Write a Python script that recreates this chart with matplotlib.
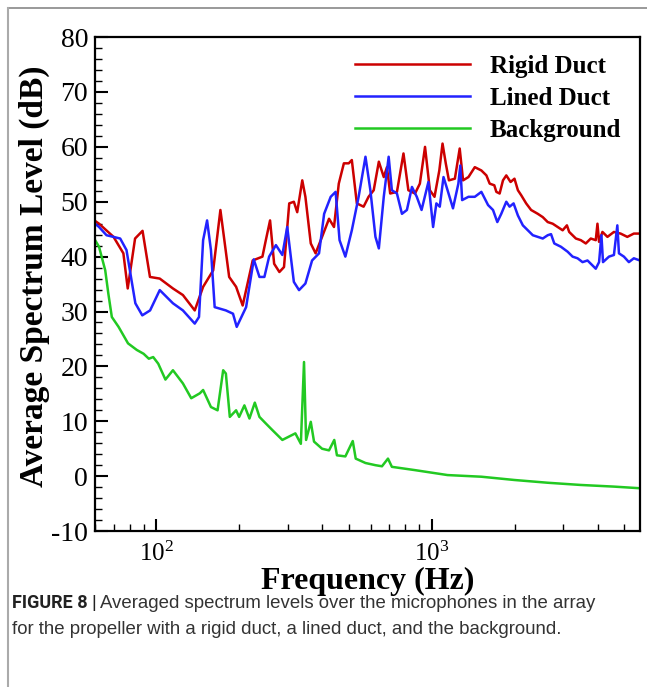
import matplotlib
matplotlib.use("Agg")
import matplotlib.pyplot as plt
from matplotlib.ticker import FixedLocator, LogLocator, NullFormatter
from matplotlib.lines import Line2D

plt.rcParams['font.family'] = ['Liberation Serif', 'DejaVu Serif']
plt.rcParams['mathtext.fontset'] = 'custom'
plt.rcParams['mathtext.rm'] = 'Liberation Serif'
plt.rcParams['axes.unicode_minus'] = False

# ---- data ----
rigid_f = [60, 62, 70, 76, 78.8, 83.8, 89.2, 94.9, 103, 115, 125, 138, 148, 161, 171, 184, 195, 206,
           224, 243, 250, 259, 268, 280, 291, 304, 316, 325, 339, 348, 364, 379, 400, 424, 442, 460,
           480, 500, 513, 535, 566, 590, 616, 643, 670, 688, 707, 748, 790, 823, 870, 906, 946,
           985, 1024, 1066, 1095, 1125, 1155, 1214, 1264, 1300, 1360, 1434,
           1515, 1580, 1624, 1688, 1717, 1765, 1815, 1866, 1934, 1998, 2056, 2113, 2203, 2296, 2428,
           2531, 2638, 2750, 2867, 2989, 3097, 3157, 3338, 3479, 3627, 3781, 3942, 3998, 4052, 4168,
           4346, 4588, 4852, 5131, 5419, 5700]
rigid_db = [46.5, 46.0, 43.6, 40.6, 34.2, 43.3, 44.7, 36.3, 36.0, 34.2, 33.0, 30.2, 34.5, 37.5, 48.5,
            36.3, 34.5, 31.1, 39.3, 40.0, 43.0, 46.6, 38.7, 37.2, 38.1, 49.7, 50.0, 48.1, 53.9, 50.9,
            42.4, 40.6, 43.6, 46.9, 45.4, 53.3, 57.0, 57.0, 57.6, 49.7, 49.1, 50.9, 52.1, 57.3, 54.5,
            56.3, 51.5, 51.8, 58.8, 52.1, 51.5, 53.3, 60.0, 52.1, 50.9, 55.7, 60.6, 57.0, 53.9, 54.2,
            59.7, 53.9, 54.5, 56.3,
            55.7, 54.8, 53.3, 53.0, 51.8, 51.5, 53.9, 54.8, 53.6, 54.2, 52.1, 51.2, 49.7, 48.5, 47.8,
            47.2, 46.3, 46.0, 45.4, 44.8, 45.7, 44.5, 43.3, 43.0, 42.4, 43.3, 43.0, 46.0, 42.7, 44.5,
            43.6, 44.5, 44.2, 43.6, 44.2, 44.2]

lined_f = [60, 62, 66, 74, 78, 84, 89, 95, 103, 115, 125, 138, 143, 148, 153, 158, 163, 179, 190, 196,
           212, 226, 237, 247, 257, 272, 287, 299, 308, 316, 330, 348, 368, 390, 407, 430, 448, 463,
           486, 513, 543, 575, 599, 625, 643, 670, 698, 717, 748, 780, 813, 848, 883, 919, 973, 1012,
           1040, 1070, 1104, 1142, 1195, 1250, 1270, 1290, 1360, 1434,
           1515, 1558, 1602, 1670, 1731, 1789, 1866, 1918, 1983, 2056, 2143, 2234, 2329, 2428, 2531,
           2638, 2712, 2787, 2946, 3115, 3248, 3385, 3529, 3679, 3835, 3942, 4052, 4133, 4188, 4402,
           4588, 4721, 4785, 4988, 5199, 5419, 5700]
lined_db = [46.0, 45.4, 43.9, 43.3, 41.2, 31.5, 29.3, 30.2, 33.9, 31.5, 30.2, 27.8, 29.0, 43.0, 46.6,
            41.2, 30.8, 30.2, 29.6, 27.2, 30.8, 39.5, 36.3, 36.3, 40.0, 42.1, 40.3, 45.4, 40.0, 35.4,
            33.9, 35.1, 39.3, 40.6, 47.8, 50.9, 51.8, 43.0, 40.0, 44.8, 50.9, 58.2, 52.1, 43.6, 41.5,
            50.9, 58.2, 52.1, 51.5, 47.8, 48.5, 52.7, 50.9, 48.5, 53.6, 45.4, 49.7, 49.1, 54.5, 52.1,
            48.8, 53.3, 56.6, 50.3, 50.9, 50.9,
            51.8, 50.6, 49.4, 48.5, 46.3, 47.8, 50.0, 49.1, 49.7, 47.5, 45.7, 44.8, 43.9, 43.6, 43.3,
            43.9, 44.1, 42.4, 41.8, 40.9, 40.0, 39.7, 39.0, 39.3, 38.4, 37.8, 39.0, 43.9, 39.0, 40.0,
            40.3, 45.7, 40.6, 40.0, 39.0, 39.7, 39.3]

bg_f = [60, 62, 65.3, 67, 69, 73, 79, 85, 90, 94, 97.5, 101.7, 108, 115, 125, 134, 144, 148, 158, 167,
        175, 179, 185, 195, 200, 209, 218, 228, 237, 250, 264, 287, 320, 335, 344, 350, 364, 374, 400,
        424, 443, 453, 486, 517, 530, 575, 625, 660, 694, 717, 870, 1142, 1515, 2000, 2640, 3470,
        4580, 5700]
bg_db = [43.0, 41.8, 37.5, 33.3, 29.0, 27.2, 24.2, 23.0, 22.3, 21.4, 21.7, 20.5, 17.6, 19.3, 16.9,
         14.2, 15.1, 15.7, 12.6, 12.0, 19.3, 18.7, 10.8, 12.0, 10.8, 12.9, 10.5, 13.4, 10.8, 9.6, 8.4,
         6.6, 7.8, 5.9, 20.8, 6.6, 9.9, 6.3, 5.0, 4.7, 6.6, 3.8, 3.6, 6.4, 3.2, 2.4, 2.0, 1.8, 3.2, 1.7,
         1.1, 0.2, -0.1, -0.7, -1.2, -1.6, -1.9, -2.2]

series_names = ["Rigid Duct", "Lined Duct", "Background"]
series_colors = ["#cc0000", "#2222ff", "#22c922"]

caption_bold = "FIGURE 8 |"
caption_line1 = "Averaged spectrum levels over the microphones in the array"
caption_line2 = "for the propeller with a rigid duct, a lined duct, and the background."

fig = plt.figure(figsize=(6.47, 6.87), dpi=100)
ax = fig.add_axes([0.147, 0.227, 0.842, 0.719])

lw = 1.8
ax.plot(rigid_f, rigid_db, color=series_colors[0], lw=lw, label=series_names[0])
ax.plot(lined_f, lined_db, color=series_colors[1], lw=lw, label=series_names[1])
ax.plot(bg_f, bg_db, color=series_colors[2], lw=lw, label=series_names[2])

ax.set_xscale('log')
ax.set_xlim(60, 5700)
ax.set_ylim(-10, 80)

ax.yaxis.set_major_locator(FixedLocator(list(range(-10, 81, 10))))
ax.yaxis.set_minor_locator(FixedLocator([v for v in range(-10, 81, 2) if v % 10 != 0]))
ax.xaxis.set_major_locator(LogLocator(base=10, numticks=10))
ax.xaxis.set_minor_locator(LogLocator(base=10, subs=range(2, 10), numticks=20))
ax.xaxis.set_minor_formatter(NullFormatter())

ax.tick_params(which='both', direction='in', top=False, right=False, width=1.5)
ax.tick_params(axis='x', labelsize=18)
ax.tick_params(axis='y', labelsize=20)
ax.tick_params(which='major', length=9)
ax.tick_params(which='minor', length=5, width=1.0)
ax.tick_params(axis='x', which='major', pad=8)
ax.tick_params(axis='y', which='major', pad=5)
for s in ax.spines.values():
    s.set_linewidth(1.6)

ax.set_xlabel("Frequency (Hz)", fontsize=23, fontweight='bold', labelpad=0)
ax.set_ylabel("Average Spectrum Level (dB)", fontsize=24, fontweight='bold')
ax.yaxis.set_label_coords(-0.082, 0.516)

ax.legend(loc='upper left', frameon=False, prop={'weight': 'bold', 'size': 18},
          handlelength=4.6, handletextpad=0.8, labelspacing=0.36, borderpad=0.0,
          borderaxespad=0.0, bbox_to_anchor=(0.477, 0.964))

# figure frame lines (grey)
fig.add_artist(Line2D([8/647, 1.0], [1-8/687, 1-8/687], transform=fig.transFigure, color='#888888', lw=1.2))
fig.add_artist(Line2D([8/647, 8/647], [1-8/687, 0.0], transform=fig.transFigure, color='#aaaaaa', lw=1.5))

cap_size = 13.4
t0 = fig.text(12/647, 1-603/687, caption_bold, fontsize=cap_size - 0.4, fontweight='bold',
              family=['Roboto', 'Liberation Sans', 'DejaVu Sans'],
              va='center', ha='left', color='#222222')
fig.canvas.draw()
bb = t0.get_window_extent(renderer=fig.canvas.get_renderer())
x_next = (bb.x1 + 3) / fig.bbox.width
fig.text(x_next, 1-603/687, caption_line1, fontsize=cap_size, family=['Liberation Sans', 'DejaVu Sans'],
         va='center', ha='left', color='#333333')
fig.text(12/647, 1-630/687, caption_line2, fontsize=cap_size, family=['Liberation Sans', 'DejaVu Sans'],
         va='center', ha='left', color='#333333')

fig.savefig("out.png", dpi=100)
